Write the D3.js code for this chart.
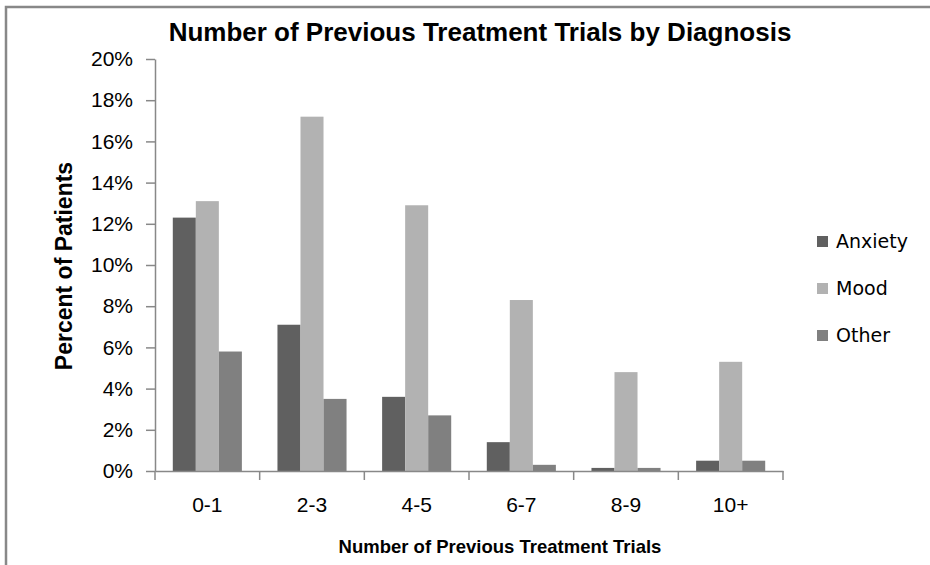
<!DOCTYPE html>
<html>
<head>
<meta charset="utf-8">
<script src="https://cdn.jsdelivr.net/npm/d3@7"></script>
<style>
  body { margin: 0; background: #fff; }
  svg { display: block; font-family: "Liberation Sans", Arial, sans-serif; }
  .axis path, .axis line { stroke: #888; stroke-width: 1.5; }
  .axis text { fill: #000; font-size: 21px; font-family: "Liberation Sans", Arial, sans-serif; }
</style>
</head>
<body>
<div id="chart"></div>
<script>
// Number of previous treatment trials, % of patients by diagnosis
const categories = ['0-1', '2-3', '4-5', '6-7', '8-9', '10+'];
const seriesNames = ['Anxiety', 'Mood', 'Other'];
const anxiety = [12.3, 7.1, 3.6, 1.4, 0.15, 0.5];
const mood = [13.1, 17.2, 12.9, 8.3, 4.8, 5.3];
const other = [5.8, 3.5, 2.7, 0.3, 0.15, 0.5];
const yTicks = [0, 2, 4, 6, 8, 10, 12, 14, 16, 18, 20];

const colors = { Anxiety: '#606060', Mood: '#b2b2b2', Other: '#808080' };
const values = { Anxiety: anxiety, Mood: mood, Other: other };

const width = 930, height = 565;
const plot = { left: 155, right: 783, top: 59, bottom: 471 };

const svg = d3.select('#chart')
    .append('svg')
    .attr('width', width)
    .attr('height', height);

// frame (only top and left edges are visible in the original crop)
svg.append('path')
    .attr('d', `M6,${height} V7 H${width}`)
    .attr('fill', 'none')
    .attr('stroke', '#888')
    .attr('stroke-width', 2.5);

// scales
const x0 = d3.scaleBand()
    .domain(categories)
    .range([plot.left, plot.right])
    .paddingInner(0.34)
    .paddingOuter(0.17);

const x1 = d3.scaleBand()
    .domain(seriesNames)
    .range([0, x0.bandwidth()]);

const y = d3.scaleLinear()
    .domain([0, 20])
    .range([plot.bottom, plot.top]);

// bars
const groups = svg.selectAll('.group')
    .data(categories)
    .enter()
    .append('g')
    .attr('class', 'group')
    .attr('transform', d => `translate(${x0(d)},0)`);

groups.selectAll('rect')
    .data((d, i) => seriesNames.map(s => ({ s, v: values[s][i] })))
    .enter()
    .append('rect')
    .attr('x', d => x1(d.s))
    .attr('width', x1.bandwidth())
    .attr('y', d => y(d.v))
    .attr('height', d => y(0) - y(d.v))
    .attr('fill', d => colors[d.s]);

// y axis
const yAxis = d3.axisLeft(y)
    .tickValues(yTicks)
    .tickFormat(d => d + '%')
    .tickSize(9)
    .tickSizeOuter(0)
    .tickPadding(13);

svg.append('g')
    .attr('class', 'axis')
    .attr('transform', `translate(${plot.left},0)`)
    .call(yAxis);

// x axis: labels centred on groups, ticks at category boundaries
const xAxis = d3.axisBottom(x0)
    .tickSize(0)
    .tickSizeOuter(0)
    .tickPadding(26);

svg.append('g')
    .attr('class', 'axis')
    .attr('transform', `translate(0,${plot.bottom})`)
    .call(xAxis);

const step = x0.step();
svg.append('g')
    .attr('class', 'axis')
    .selectAll('line')
    .data(d3.range(categories.length + 1))
    .enter()
    .append('line')
    .attr('x1', i => plot.left + i * step)
    .attr('x2', i => plot.left + i * step)
    .attr('y1', plot.bottom)
    .attr('y2', plot.bottom + 9);

// title
svg.append('text')
    .attr('x', 480)
    .attr('y', 41)
    .attr('text-anchor', 'middle')
    .style('font-size', '26px')
    .style('font-weight', 'bold')
    .text('Number of Previous Treatment Trials by Diagnosis');

// axis titles
svg.append('text')
    .attr('transform', 'translate(72,266) rotate(-90)')
    .attr('text-anchor', 'middle')
    .style('font-size', '23px')
    .style('font-weight', 'bold')
    .text('Percent of Patients');

svg.append('text')
    .attr('x', 500)
    .attr('y', 553)
    .attr('text-anchor', 'middle')
    .style('font-size', '18.5px')
    .style('font-weight', 'bold')
    .text('Number of Previous Treatment Trials');

// legend
const legend = svg.append('g')
    .attr('transform', 'translate(817,236)');

const items = legend.selectAll('g')
    .data(seriesNames)
    .enter()
    .append('g')
    .attr('transform', (d, i) => `translate(0,${i * 47})`);

items.append('rect')
    .attr('width', 11)
    .attr('height', 11)
    .attr('fill', d => colors[d]);

items.append('text')
    .attr('x', 19)
    .attr('y', 12)
    .style('font-family', '"DejaVu Sans", sans-serif')
    .style('font-size', '19px')
    .text(d => d);
</script>
</body>
</html>
